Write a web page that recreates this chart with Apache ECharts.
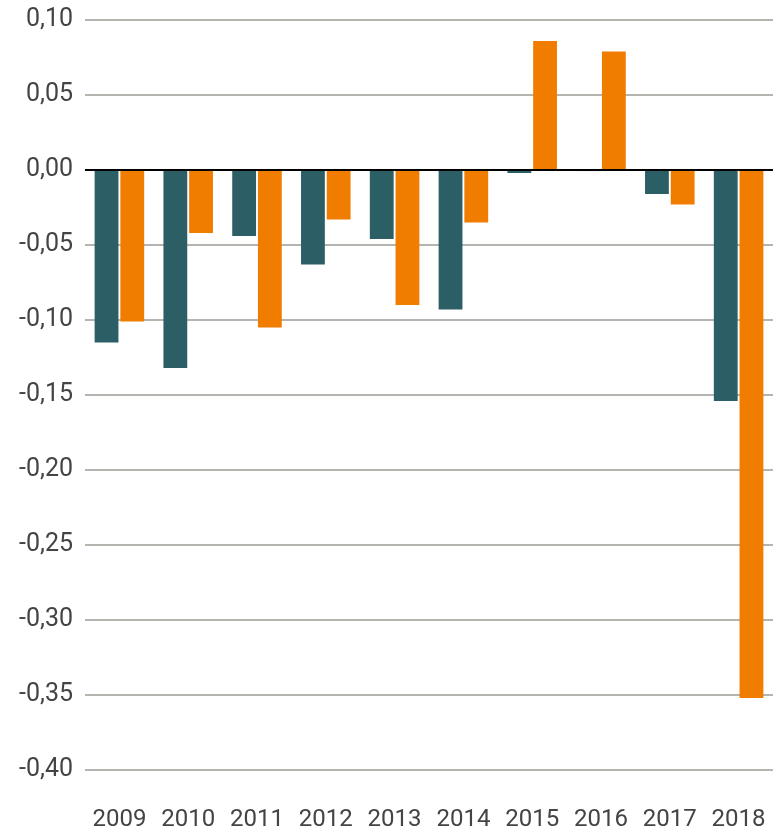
<!DOCTYPE html>
<html>
<head>
<meta charset="utf-8">
<script src="https://cdn.jsdelivr.net/npm/echarts@6/dist/echarts.min.js"></script>
<style>html,body{margin:0;padding:0;background:#fff}#c{width:773px;height:834px}</style>
</head>
<body>
<div id="c"></div>
<script>
const categories = ['2009','2010','2011','2012','2013','2014','2015','2016','2017','2018'];
const seriesA = [-0.115, -0.132, -0.044, -0.063, -0.046, -0.093, -0.002, -0.0007, -0.016, -0.154];
const seriesB = [-0.101, -0.042, -0.105, -0.033, -0.090, -0.035, 0.086, 0.079, -0.023, -0.352];
const yMin = -0.40, yMax = 0.10, yStep = 0.05;

const chart = echarts.init(document.getElementById('c'));
chart.setOption({
  animation: false,
  grid: {left: 85, right: 0, top: 20, bottom: 64},
  xAxis: {
    type: 'category', data: categories,
    axisLine: {show: false, onZero: false}, axisTick: {show: false},
    axisLabel: {color: '#444', fontSize: 24, fontFamily: 'Roboto', margin: 38, interval: 0, hideOverlap: false}
  },
  yAxis: {
    type: 'value', min: yMin, max: yMax, interval: yStep,
    axisLine: {show: false}, axisTick: {show: false},
    axisLabel: {color: '#444', fontSize: 25, fontFamily: 'Roboto', margin: 12,
      formatter: v => v.toFixed(2).replace('.', ',')},
    splitLine: {lineStyle: {color: '#9c9c95', width: 1.5}}
  },
  series: [
    {type: 'bar', data: seriesA, itemStyle: {color: '#2c5f65'}, barGap: '8%', barCategoryGap: '28%',
     markLine: {silent: true, symbol: 'none', label: {show: false},
       lineStyle: {color: '#000', width: 2, type: 'solid'}, data: [{yAxis: 0}]}},
    {type: 'bar', data: seriesB, itemStyle: {color: '#f07d00'}, barGap: '8%', barCategoryGap: '28%'}
  ]
});
</script>
</body>
</html>
